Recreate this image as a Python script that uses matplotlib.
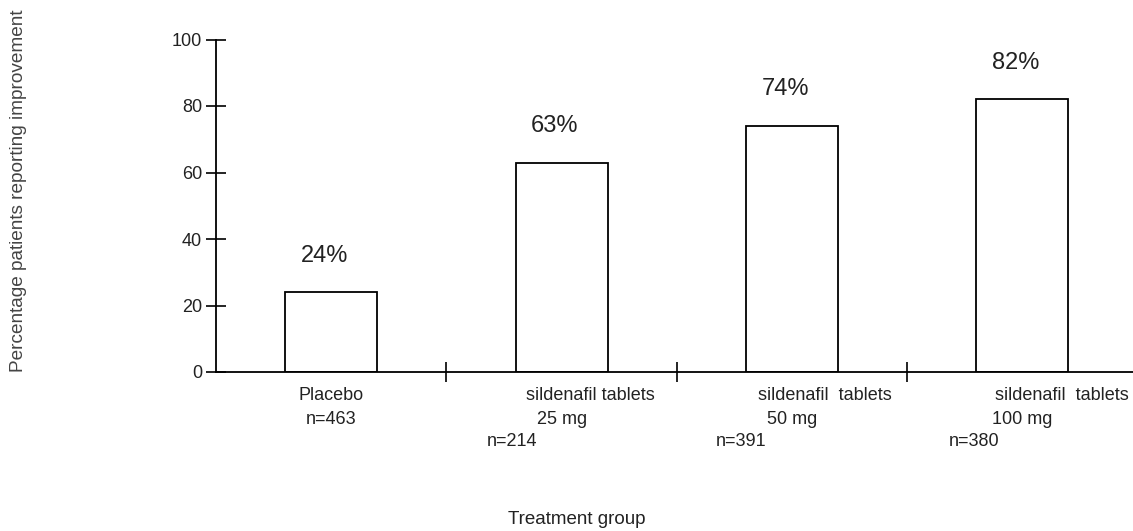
import matplotlib
matplotlib.use("Agg")
import matplotlib.pyplot as plt
from matplotlib.transforms import blended_transform_factory

plt.rcParams['font.family'] = ['Liberation Sans', 'DejaVu Sans']

groups = ["Placebo", "sildenafil tablets 25 mg", "sildenafil tablets 50 mg", "sildenafil tablets 100 mg"]
values = [24, 63, 74, 82]
value_labels = ["24%", "63%", "74%", "82%"]
line1 = ["Placebo", "sildenafil tablets", "sildenafil  tablets", "sildenafil  tablets"]
line2 = ["n=463", "25 mg", "50 mg", "100 mg"]
line3 = ["", "n=214", "n=391", "n=380"]
yticks = [0, 20, 40, 60, 80, 100]

W, H = 1133, 531
fig = plt.figure(figsize=(W / 100, H / 100), dpi=100)
ax = fig.add_axes([216 / W, 1 - 372 / H, 1 - 216 / W, (372 - 39.5) / H])

x = list(range(len(values)))
ax.bar(x, values, width=0.4, facecolor="white", edgecolor="black", linewidth=1.3)

ax.set_xlim(-0.5, 3.48)
ax.set_ylim(0, 100)
ax.set_yticks(yticks)
ax.set_xticks([0.5, 1.5, 2.5])
ax.set_xticklabels([])
ax.tick_params(axis='both', direction='inout', length=14, width=1.2, colors='black',
               labelsize=13)
ax.tick_params(axis='y', pad=3, labelcolor='#222222')
for s in ['top', 'right']:
    ax.spines[s].set_visible(False)
for s in ['left', 'bottom']:
    ax.spines[s].set_linewidth(1.3)

for xi, v, lab in zip(x, values, value_labels):
    ax.text(xi - 0.03, v + 11, lab, ha='center', va='center', fontsize=17, color='#222222')

tr = blended_transform_factory(ax.transData, fig.transFigure)
off1 = [0.0, 0.127, 0.143, 0.17]
off2 = [0.0, 0.0, 0.0, 0.0]
off3 = [0.0, -0.217, -0.222, -0.209]
for i in x:
    ax.text(i + off1[i], 1 - 395 / H, line1[i], transform=tr, ha='center', va='center', fontsize=13, color='#222222')
    ax.text(i + off2[i], 1 - 419 / H, line2[i], transform=tr, ha='center', va='center', fontsize=13, color='#222222')
    if line3[i]:
        ax.text(i + off3[i], 1 - 442 / H, line3[i], transform=tr, ha='center', va='center', fontsize=13, color='#222222')

fig.text(577 / W, 1 - 520 / H, "Treatment group", ha='center', va='center', fontsize=13.5, color='#222222')
fig.text(19 / W, 1 - 191 / H, "Percentage patients reporting improvement", rotation=90,
         ha='center', va='center', fontsize=13.7, color='#444444')

fig.savefig("out.png", dpi=100)
